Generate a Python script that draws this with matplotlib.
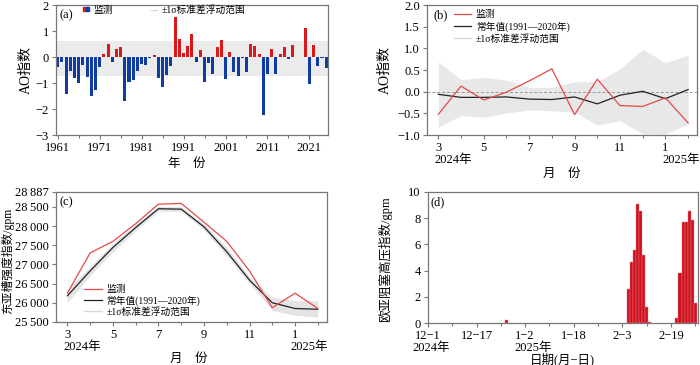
import matplotlib
matplotlib.use("Agg")
import matplotlib.pyplot as plt
import numpy as np
import pandas as pd
from matplotlib.legend_handler import HandlerTuple
from matplotlib.lines import Line2D
from matplotlib.patches import Patch
from matplotlib.ticker import FixedLocator, FuncFormatter, MultipleLocator

plt.rcParams["font.family"] = ["Liberation Serif", "Noto Sans CJK SC", "DejaVu Sans"]
plt.rcParams["axes.unicode_minus"] = True

# (a) annual AO index
ao_years = list(range(1961, 2026))
ao_values = [-0.38, -0.20, -1.41, -0.52, -0.80, -1.00, -0.31, -0.75, -1.48, -1.27,
             -0.37, 0.10, 0.52, -0.18, 0.33, 0.38, -1.68, -0.97, -0.87, -0.52,
             -0.28, -0.32, -0.03, 0.07, -0.80, -1.17, -0.68, -0.35, 1.55, 0.68,
             0.14, 0.44, 0.88, -0.18, 0.28, -0.95, -0.22, -0.65, 0.37, 0.64,
             -0.86, 0.18, -0.58, -0.72, -0.05, -0.58, 0.50, 0.44, 0.10, -2.23,
             -0.66, 0.33, -0.64, 0.11, 0.39, -0.07, 0.46, 0.02, 0.02, 1.10,
             -1.04, 0.48, -0.36, -0.04, -0.43]
ao_band = [-0.73, 0.62]

# (b) monthly AO, 2024-03 .. 2025-02
months = list(range(3, 15))
month_ticks = [3, 5, 7, 9, 11, 13]
month_labels = ["3", "5", "7", "9", "11", "1"]
ao_obs = [-0.52, 0.13, -0.19, -0.01, 0.25, 0.53, -0.53, 0.29, -0.32, -0.34, -0.14, -0.72]
ao_clim = [-0.06, -0.13, -0.13, -0.12, -0.17, -0.18, -0.12, -0.28, -0.08, 0.01, -0.16, 0.05]
ao_upper = [0.69, 0.28, 0.33, 0.27, 0.10, 0.10, 0.23, 0.23, 0.53, 0.98, 0.67, 0.85]
ao_lower = [-0.81, -0.55, -0.59, -0.49, -0.42, -0.44, -0.47, -0.77, -0.67, -0.97, -0.98, -0.75]

# (c) East Asian trough intensity
eat_obs = [26250, 27300, 27600, 28060, 28570, 28590, 28100, 27600, 26830, 25870, 26250, 25850]
eat_clim = [26180, 26830, 27440, 27960, 28450, 28440, 27980, 27330, 26590, 26000, 25850, 25830]
eat_upper = [26350, 26950, 27550, 28040, 28510, 28500, 28060, 27440, 26680, 26140, 26060, 26050]
eat_lower = [26000, 26710, 27330, 27880, 28390, 28380, 27900, 27220, 26500, 25800, 25670, 25630]
eat_ticks = [25500, 26000, 26500, 27000, 27500, 28000, 28500, 28887]

# (d) Eurasian blocking high index (days with non-zero values)
block_start = "2024-12-01"
block_dates = ["2024-12-27",
               "2025-02-05", "2025-02-06", "2025-02-07", "2025-02-08",
               "2025-02-09", "2025-02-10", "2025-02-11", "2025-02-12",
               "2025-02-21", "2025-02-22", "2025-02-23", "2025-02-24",
               "2025-02-25", "2025-02-26", "2025-02-27"]
block_values = [0.2,
                2.6, 4.65, 5.6, 9.05, 8.55, 5.2, 1.25, 0.05,
                0.4, 3.8, 7.7, 7.7, 8.55, 7.85, 1.5]
day_tick_dates = ["2024-12-01", "2024-12-17", "2025-01-02", "2025-01-18", "2025-02-03", "2025-02-19"]
day_labels = ["12\u22121", "12\u221217", "1\u22122", "1\u221218", "2\u22123", "2\u221219"]

RED = "#d7191c"
BLUE = "#0f3c9e"
SPINE = "#777777"
FS = 9
LFS = 7


def style(ax):
    for sp in ax.spines.values():
        sp.set_color(SPINE)
        sp.set_linewidth(0.9)
    ax.tick_params(which="both", direction="out", color=SPINE, width=0.8,
                   labelsize=FS, pad=2)
    ax.tick_params(which="major", length=3)
    ax.tick_params(which="minor", length=2)


def year_note(ax, x, text, dx):
    ax.annotate(text, xy=(x, 0), xycoords=ax.get_xaxis_transform(),
                xytext=(dx, -13.5), textcoords="offset points",
                ha="left", va="top", fontsize=FS)


fig = plt.figure(figsize=(7.0, 3.65), dpi=100)

# ---------------- (a)
ax = fig.add_axes([0.080, 0.630, 0.389, 0.356])
ax.axhspan(ao_band[0], ao_band[1], color="#ebebeb", lw=0, zorder=0)
vals = np.array(ao_values)
cols = [RED if v > 0 else BLUE for v in vals]
ax.bar(ao_years, vals, width=0.72, color=cols, zorder=2)
ax.set_xlim(1960.6, 2025.5)
ax.set_ylim(-3, 2)
ax.set_xticks(range(1961, 2022, 10))
ax.xaxis.set_minor_locator(FixedLocator(range(1966, 2026, 10)))
ax.yaxis.set_major_locator(MultipleLocator(1))
style(ax)
ax.set_ylabel("AO指数", fontsize=10)
ax.yaxis.set_label_coords(-0.085, 0.5)
ax.set_xlabel("年　份", fontsize=FS)
ax.xaxis.set_label_coords(0.48, -0.175)
ax.text(0.012, 0.92, "(a)", transform=ax.transAxes, fontsize=FS, va="center")
h1 = (Patch(color=RED), Patch(color=BLUE))
h2 = Line2D([], [], color="#d9d9d9", lw=1)
ax.legend([h1, h2], ["监测", "±1σ标准差浮动范围"], ncol=2, frameon=False,
          handler_map={tuple: HandlerTuple(ndivide=None, pad=0)},
          loc="upper left", bbox_to_anchor=(0.085, 1.03), fontsize=LFS,
          handlelength=0.6, handleheight=0.25, handletextpad=0.5,
          columnspacing=3.9, borderaxespad=0)

# ---------------- (b)
ax = fig.add_axes([0.610, 0.630, 0.386, 0.356])
ax.fill_between(months, ao_lower, ao_upper, color="#e8e8e8", lw=0, zorder=0)
ax.axhline(0, color="#999999", lw=0.7, ls=(0, (3, 2)), zorder=1)
ax.plot(months, ao_clim, color="#222222", lw=0.9, zorder=2)
ax.plot(months, ao_obs, color="#e5494a", lw=0.9, zorder=3)
ax.set_xlim(2.5, 14.4)
ax.set_ylim(-1, 2)
ax.set_xticks(month_ticks)
ax.set_xticklabels(month_labels)
ax.xaxis.set_minor_locator(FixedLocator(months))
ax.yaxis.set_major_locator(MultipleLocator(0.5))
ax.yaxis.set_major_formatter(FuncFormatter(lambda v, p: f"{v:.1f}".replace("-", "\u2212")))
style(ax)
year_note(ax, 3, "2024年", -2.5)
year_note(ax, 13, "2025年", -2.5)
ax.set_ylabel("AO指数", fontsize=10)
ax.yaxis.set_label_coords(-0.13, 0.5)
ax.set_xlabel("月　份", fontsize=FS)
ax.xaxis.set_label_coords(0.5, -0.25)
ax.text(0.025, 0.92, "(b)", transform=ax.transAxes, fontsize=FS, va="center")
hb = [Line2D([], [], color="#e5494a", lw=0.9),
      Line2D([], [], color="#222222", lw=0.9),
      Line2D([], [], color="#d9d9d9", lw=1)]
ax.legend(hb, ["监测", "常年值(1991—2020年)", "±1σ标准差浮动范围"], frameon=False,
          loc="upper left", bbox_to_anchor=(0.085, 0.99), fontsize=LFS,
          handlelength=1.8, handletextpad=0.45, labelspacing=0.2, borderaxespad=0)

# ---------------- (c)
ax = fig.add_axes([0.080, 0.118, 0.387, 0.356])
ax.fill_between(months, eat_lower, eat_upper, color="#e4e4e4", lw=0, zorder=0)
ax.plot(months, eat_clim, color="#222222", lw=0.9, zorder=2)
ax.plot(months, eat_obs, color="#e5494a", lw=0.9, zorder=3)
ax.set_xlim(2.5, 14.4)
ax.set_ylim(eat_ticks[0], eat_ticks[-1])
ax.set_yticks(eat_ticks)
ax.yaxis.set_major_formatter(FuncFormatter(lambda v, p: f"{int(v) // 1000}\u2009{int(v) % 1000:03d}"))
ax.set_xticks(month_ticks)
ax.set_xticklabels(month_labels)
ax.xaxis.set_minor_locator(FixedLocator(months))
style(ax)
year_note(ax, 3, "2024年", -3)
year_note(ax, 13, "2025年", -3)
ax.set_ylabel("东亚槽强度指数/gpm", fontsize=8.5)
ax.yaxis.set_label_coords(-0.155, 0.47)
ax.set_xlabel("月　份", fontsize=FS)
ax.xaxis.set_label_coords(0.49, -0.235)
ax.text(0.012, 0.92, "(c)", transform=ax.transAxes, fontsize=FS, va="center")
ax.legend(hb, ["监测", "常年值(1991—2020年)", "±1σ标准差浮动范围"], frameon=False,
          loc="lower left", bbox_to_anchor=(0.09, 0.01), fontsize=LFS,
          handlelength=1.8, handletextpad=0.45, labelspacing=0.12, borderaxespad=0)

# ---------------- (d)
ax = fig.add_axes([0.611, 0.115, 0.386, 0.359])
t0 = pd.Timestamp(block_start)
bx = [(pd.Timestamp(d) - t0).days for d in block_dates]
ax.bar(bx, block_values, width=1.0, color="#cc1020", edgecolor="#f08080", lw=0.3, zorder=2)
tx = [(pd.Timestamp(d) - t0).days for d in day_tick_dates]
ax.set_xlim(-0.1, 88.9)
ax.set_ylim(0, 10)
ax.set_xticks(tx)
ax.set_xticklabels(day_labels)
ax.xaxis.set_minor_locator(MultipleLocator(8))
ax.yaxis.set_major_locator(MultipleLocator(2))
style(ax)
year_note(ax, tx[0], "2024年", -11)
year_note(ax, tx[2], "2025年", -7.5)
ax.set_ylabel("欧亚阻塞高压指数/gpm", fontsize=9)
ax.yaxis.set_label_coords(-0.133, 0.49)
ax.set_xlabel("日期(月\u2212日)", fontsize=FS)
ax.xaxis.set_label_coords(0.5, -0.225)
ax.text(0.012, 0.92, "(d)", transform=ax.transAxes, fontsize=FS, va="center")

fig.savefig("out.png", dpi=100)
